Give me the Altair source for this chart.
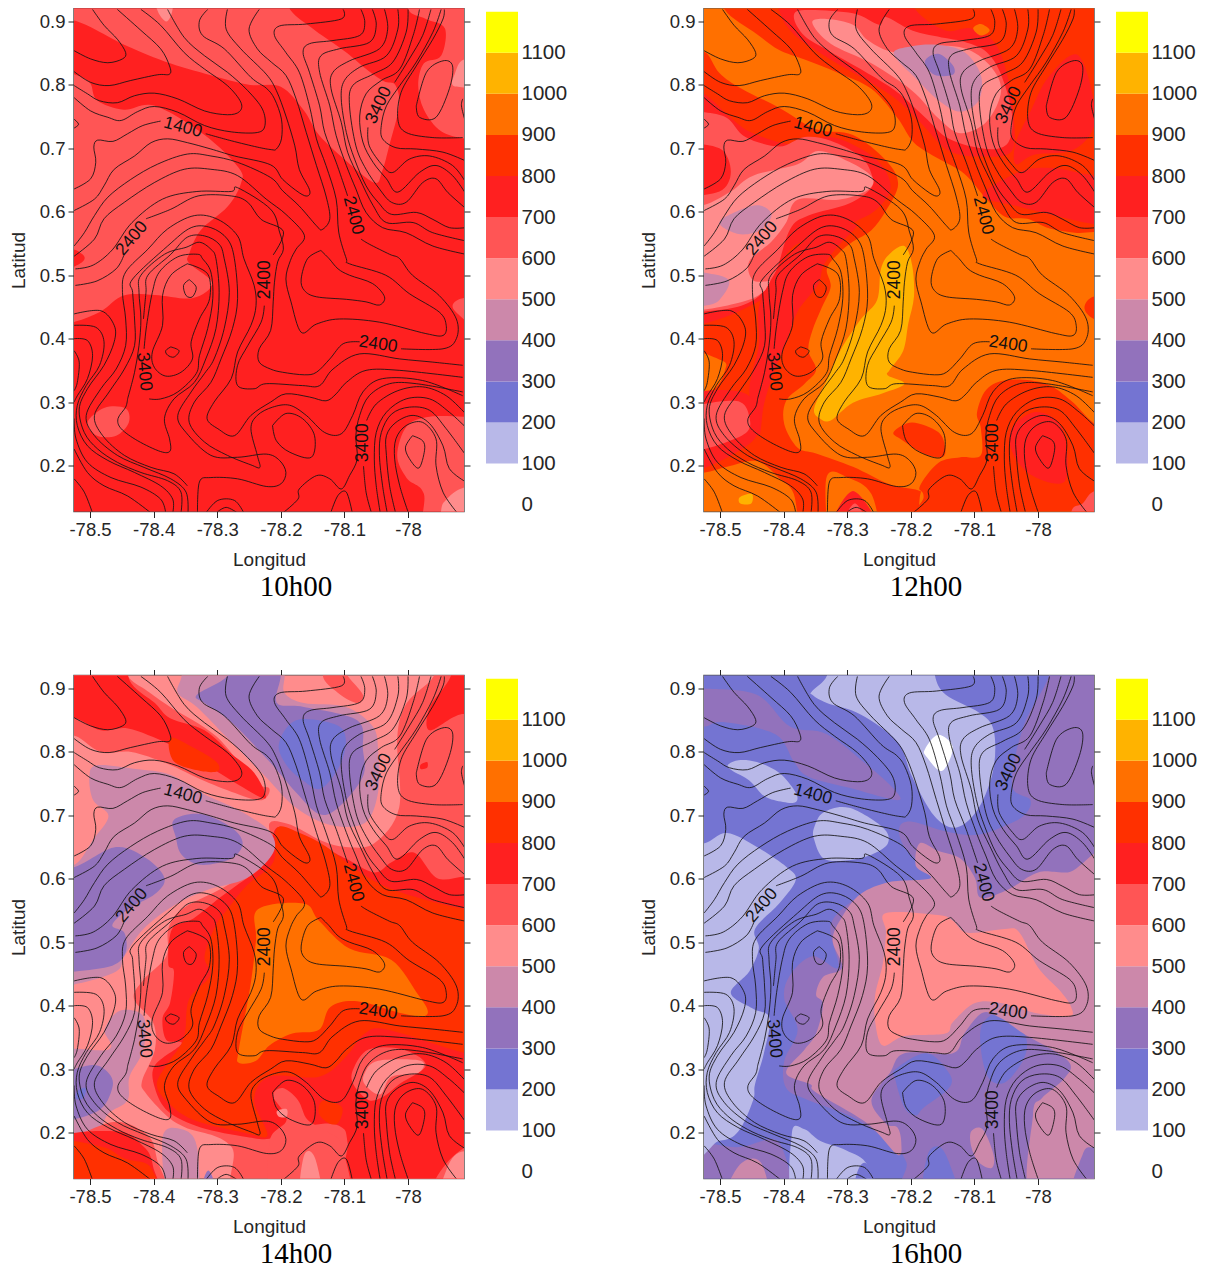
import altair as alt
import pandas as pd

# All outlines are flat u,v lists: u = hundredths of a degree east of -78.5, v = hundredths of a degree of latitude.
LON0 = -78.5
LON_DOMAIN = [-78.5252, -77.912]
LAT_DOMAIN = [0.1275, 0.9205]
LON_TICKS = [-78.5, -78.4, -78.3, -78.2, -78.1, -78]
LAT_TICKS = [0.2, 0.3, 0.4, 0.5, 0.6, 0.7, 0.8, 0.9]
BAND_LEVELS = [0, 100, 200, 300, 400, 500, 600, 700, 800, 900, 1000, 1100]
BAND_COLORS = ["#FFFFFF", "#B8B8E8", "#7474D2", "#9272BC", "#CC88AA", "#FF8C8C", "#FF5555",
               "#FF2020", "#FF3000", "#FF7000", "#FFB300", "#FFFF00"]
BAR_TICKS = [0, 100, 200, 300, 400, 500, 600, 700, 800, 900, 1000, 1100]
FULL = [-10, 0, 70, 0, 70, 100, -10, 100]

PANEL_10H = [
    (700, FULL),
    (600, [-6,96, -6,91, -2.3,90.1, 1.1,88.6, 5.9,86.1, 12.6,83.4, 19.8,81.3, 25.2,80, 30,79.7, 33.6,76, 36,72.1, 40.2,68.1, 44.7,64.6, 45.9,66.3, 47.1,70.6, 48.6,76.7, 48,80, 46.2,80.6, 43.8,82.2, 40.2,85.2, 35.4,88.6, 31.5,91.8, 30,96]),
    (600, [50.1,91.8, 52.8,90.4, 55.8,88.9, 55.2,84.6, 52.5,83.4, 51.6,80, 52.5,76.1, 55.2,72.7, 59.1,71.5, 63,71, 63,96, 50,96]),
    (600, [-6,82, -2.3,81.6, 0,80.3, 1.1,77.6, 5.3,76.1, 10.2,76.7, 18,72.1, 23.4,66.9, 23.7,64.4, 21.6,60.8, 17.4,57.1, 15.6,53.4, 15.6,51.9, 19.2,48.8, 16.2,46.4, 10.2,46.9, 5.3,46.8, 1.7,44.3, -2.3,42.7, -6,42]),
    (600, [-0.4,26.8, 2.3,29.1, 5.6,29, 6.1,26.8, 4.1,24.7, 1.1,24.7]),
    (600, [48.3,21.6, 49.8,26.2, 53.4,27.7, 59.1,27.7, 63,27.7, 63,8, 52.8,8, 52.5,15.5, 49.8,18]),
    (700, [-3,54, -1,53.1, -1.3,52, -4,51]),
    (600, [57,45.2, 58.8,46.4, 63,46, 63,40, 58.5,43.3]),
    (500, [10.5,92, 12,90, 13,92, 13,96, 10,96]),
    (500, [63,83, 58.8,84, 57.3,81.6, 57,80, 58.8,79.6, 63,79]),
    (500, [63,17, 58.5,16.4, 56,14.6, 55.2,12.9, 55,8, 63,8]),
]

PANEL_12H = [
    (900, FULL),
    (800, [.8,91.8, 5.8,88, 9.3,85.5, 13.3,84, 18.6,81.9, 23.8,79.4, 27.9,74.8, 30.5,70.9, 34.3,68.4, 38.4,66, 41.9,62, 44.8,59.2, 48.3,58.9, 51.7,57.4, 55.8,56.7, 59,56.8, 64,56.8, 64,96, .8,96]),
    (800, [-6,85, -2.4,85.2, -.1,81.9, 3.4,79.4, 9.3,76.4, 15.1,73, 20.9,72.1, 26.1,68.1, 28,64.4, 26.1,60.2, 23.8,57.1, 20.9,55.3, 18.6,53.4, 16.8,51, 17.4,48.2, 16,44.9, 14.5,41.2, 13.9,38.1, 15.1,35.1, 13.3,32.9, 10.4,30.2, 10.1,26.5, 12.2,22.8, 15.1,21.9, 20.9,19.8, 26.7,17, 31.1,16.1, 31.4,14.9, 30.2,8, 26.1,8, 23.8,15.5, 20.3,18, 16.8,18.3, 16.5,8, 13,8, 11.6,15.5, 9.3,18, 5.8,20.7, 1.1,19.8, -2.4,18.9, -6,18.9]),
    (800, [40.4,28.3, 41.9,32, 45.3,33.5, 51.2,32.9, 55.2,30.2, 59,26.5, 64,24, 64,8, 30.6,8, 32,14.9, 31.4,16.7, 34.3,20.4, 37.8,21.3, 41,21.6, 41,25.9]),
    (800, [27.3,25.3, 30.2,26.8, 34.3,25.3, 35.4,22.8, 34.9,21.3, 32,21.9, 28.5,24.1]),
    (700, [-6,79, -2.4,78.5, 1.7,74.8, 5.2,72.4, 11.6,70.6, 17.4,71.8, 23.2,69.3, 26.1,66.3, 26.7,63.2, 24.4,60.2, 20.9,58.3, 15.7,55.9, 11.6,54.6, 9.3,51, 8.1,47.3, 2.9,44.3, -2.4,42.4, -6,42]),
    (600, [-6,76, -2.4,75.7, 1.1,74.8, 4,71.8, 9.3,70.3, 13.3,71.8, 17.4,71.2, 22.1,68.7, 23.8,66, 23.8,63.8, 20.3,61.3, 13.9,59.4, 11,57.2, 8.7,50.4, 6.1,46.7, 2.3,44.9, -2.4,44.3, -6,44]),
    (700, [-6,70, -.1,70, 1.7,66.3, -.1,63.2, -6,63.2]),
    (500, [-6,61, -2.4,61.1, 1.7,63.2, 5.2,65.7, 12.2,67.5, 15.4,69.6, 20.3,67.9, 23.9,65.5, 23.2,63.4, 18.6,61.9, 12.2,61.9, 10.4,58.3, 8.1,55.3, 4.6,52.2, 5.2,49.2, 8.1,48.9, 5.8,46.7, 2.3,45.5, -2.4,44.6, -6,44.6]),
    (400, [-.1,58.3, 3.4,60.4, 6.3,61, 8.1,59.5, 6.3,57.1, 2.9,56.5]),
    (400, [-6,50.5, -2.4,50.4, 1.4,49.2, -.1,46.1, -2.4,45.2, -6,45]),
    (700, [8.7,50.4, 12.2,54.6, 16.8,57.1, 21.5,58, 18.6,54.6, 16.3,51.6, 15.4,48.5, 12.2,44.3, 10.4,39.4, 8.4,34.5, 6.9,29.6, 6.1,24.7, 4.6,31.7, 6.1,39, 6.1,44.9]),
    (900, [-6,38, .2,36.6, .8,35.1, -1,32, -6,30.8]),
    (700, [-6,30.2, 2.9,31.7, 6.1,28.3, 4.6,23.4, -6,19.2]),
    (600, [-6,28.3, 2.3,30.2, 4.6,27.7, 3.4,24.7, -6,22.2]),
    (700, [46.5,70.9, 48.8,75.8, 51.7,81.3, 56.4,84.6, 59,74.8, 55.8,69.9, 49.4,69, 46.5,67.5]),
    (700, [41.3,62.6, 47.1,60.8, 59,58, 64,58, 64,66, 59,65.7, 52.3,66.9, 47.1,66.3]),
    (700, [9.3,96, 9.3,91.8, 11.6,88, 17.4,84, 26.7,78.5, 31.4,74.2, 36,69.6, 41.9,68.7, 45.9,69.6, 46.2,74.8, 45.3,81, 43.3,86.5, 39.5,88.9, 35.4,88.6, 30.8,91.8, 30,96]),
    (600, [11.6,90.7, 13.3,87.7, 17.4,85.2, 26.7,79.7, 32,75.1, 36,71.5, 41.9,69.9, 45.3,70.9, 45.9,75.4, 44.2,81.6, 41.9,85.2, 38.4,86.8, 35.4,87.4, 30.2,88.6, 26.1,90.7, 25,89.5, 20.9,91.3, 13.3,91.8]),
    (500, [14.5,89.8, 16.8,90.4, 20.9,89.5, 23.2,87.1, 27.3,85.2, 32.5,86.1, 38.4,85.8, 42.4,83.1, 44.2,79.1, 41.9,74.2, 37.8,72.4, 34.3,74.8, 30.2,79.1, 23.8,83.4, 17.4,86.5]),
    (400, [27.3,84.9, 30.2,86.1, 34.3,86.3, 38.4,85.2, 41,81.6, 40.7,77.6, 37.8,75.8, 34.3,77.6, 30.8,81]),
    (300, [32.2,83.7, 34.3,84.9, 36.6,83.1, 36.6,81.6, 33.7,81.6]),
    (900, [39.8,88.9, 41,89.6, 42.4,88.6, 41,87.8]),
    (700, [45.9,25.9, 49.4,28.4, 52.9,27.1, 54.4,23.5, 54.1,17.4, 48.8,18.6, 45.9,22.3]),
    (600, [59,16, 57,14, 55.3,12.9, 55,8, 64,8, 64,16]),
    (700, [17.7,10, 20.9,16, 24.7,10]),
    (600, [19.2,10, 21.2,14, 23.2,10]),
    (1000, [25.3,51, 26.7,53.4, 29,54.6, 30.2,51.6, 30.5,46.7, 29.6,42.4, 28.8,38.1, 26.7,35.1, 26.4,34.2, 29,32.9, 25.6,31.4, 20.9,29.9, 17.4,27.1, 15.7,27.4, 14.8,29, 16.8,33.5, 18.9,38.1, 22.1,43, 24.7,46.1]),
    (1000, [3.1,15, 5,15.5, 4.9,14, 3.2,14]),
    (800, [57.3,44.9, 59,46.7, 64,46, 64,42, 59,43]),
]

PANEL_14H = [
    (500, FULL),
    (600, [-6,82.5, -2.3,82.5, 1.7,80, 6.5,80, 12,78.2, 18,75.4, 23.4,73.3, 27,72.4, 28.2,74.2, 25.8,75.4, 19.8,82.5, 12.6,87.1, 9,89.6, 5.9,92, 5,96, -6,96]),
    (700, [-6,85.5, -2.3,85.3, 1.7,83.4, 6,83.7, 12.3,81.3, 17.4,78.5, 23.4,74.8, 27.6,72.7, 25.8,76.7, 22.2,79.7, 18,83.4, 12.6,85.3, 10.2,87.7, 6.5,90.8, 4,96, -6,96]),
    (800, [12.6,82.2, 16.2,80.7, 19.8,78.5, 20.1,77, 17.4,77, 13.2,78.5]),
    (600, [28.2,68.7, 28.5,63.8, 23.4,60.1, 19.8,58, 14.4,55.2, 12.3,52.1, 12,47.8, 8.4,44.1, 6.9,41.1, 9.9,37.4, 10.2,33.1, 8.2,28.2, 8.7,26.3, 12,22.7, 15,20.8, 22.2,17.8, 25.8,8, 64,8, 64,96, 54,96, 54,91.9, 49.8,87.7, 48.3,82.2, 48.6,71.2, 44.7,65.6, 40.2,65, 36.6,65.9, 33.6,67.5, 30.9,68.7]),
    (700, [29.4,68.1, 27.6,62.6, 23.4,59.2, 20.4,57, 16.2,53.7, 12.9,52.1, 12.3,46.6, 13.2,45.4, 12.6,40.5, 11.4,38, 12,34.6, 14.4,34, 10.2,30.6, 10.2,27, 12.3,23.3, 17.4,20.8, 24.6,19.3, 28.2,19, 31.2,20.2, 36.6,21.4, 39.6,20.8, 40.5,18.4, 41.4,8, 64,8, 64,60.4, 59.1,60.4, 54.6,60.1, 51,64.1, 47.4,62.6, 44.7,61, 40.2,63.2, 37.8,64.4, 33.6,66.2]),
    (800, [29.4,68, 33,67.2, 37.2,65, 42,61.3, 46.2,58.9, 51.6,57, 59.1,55.2, 64,55, 64,32.5, 59.1,32.5, 46.8,36.2, 43.2,35.6, 40.2,31.9, 36,28.8, 28.2,28.8, 25.8,25.1, 27.9,19.6, 24.6,19.9, 16.2,22, 12,25, 10.5,27.6, 12,30.6, 14.4,34, 15,36.2, 15.6,41.1, 18.9,44.8, 18,47.8, 19.8,52.7, 21.6,55.2, 24.6,58.9, 28.8,62.6]),
    (900, [26.4,55.2, 33.6,56.1, 36,53.4, 40.8,49, 47.4,47.2, 51.6,41.7, 53.1,39.2, 52.2,38.3, 48.6,38.9, 42,40.7, 37.8,39.8, 36,36.2, 31.8,35.6, 28.2,33.7, 26.1,31.3, 23.4,31, 23.4,33.1, 25.2,43, 26.1,50.3]),
    (600, [41.4,30, 43.8,33.1, 49.2,33.1, 52.8,30.6, 48.6,27.6, 46.2,25.7, 43.8,25.1, 41.4,27.6]),
    (500, [43.2,29.4, 45.3,31.3, 52,31.3, 51.6,29.4, 47.4,28.8, 45.6,26, 43.2,27.6]),
    (600, [28.2,18.4, 30.9,22, 28.8,25.7, 30.3,27, 32.7,25.1, 34.2,22, 37.2,20.2, 39.6,17.8, 40.5,8, 29.4,8]),
    (500, [33,8, 33.6,16.2, 35.4,15.9, 36.6,8]),
    (500, [29.4,23.4, 30.9,23.7, 30.9,22.5, 29.7,22.5]),
    (800, [36.6,25, 39.6,24, 39,21.5, 37.5,21.5, 36,23]),
    (700, [53.4,83.4, 58.2,85.9, 64,86, 64,96, 56.7,96, 56.7,91.9, 53.4,87]),
    (700, [52,78, 53,78.4, 53,77.5, 52,77.3]),
    (600, [64,19, 58,17, 54,12, 54,8, 64,8]),
    (500, [64,16, 58.5,17, 56,14, 55.2,8, 64,8]),
    (400, [14.4,96, 14.4,92, 13.8,89.3, 16.8,87.1, 21.6,82.2, 27.6,76.1, 32.4,71.2, 37.8,68.5, 43.2,68.8, 45.3,73.7, 45.3,80.4, 44.4,84.1, 40.2,87.1, 33.6,87.7, 30.6,89.3, 30.6,92, 30.6,96]),
    (300, [16.8,89, 21.6,92, 21.6,96, 30,96, 30,92, 29.4,87.7, 33.6,87.1, 42,85, 42.9,80.4, 42.9,76.1, 39,71.2, 36,70.2, 32.4,73.6, 28.2,78.5, 22.2,84.7, 18,87.7]),
    (200, [29.7,81.3, 32.4,85, 38.4,84.4, 40.2,82.2, 39.3,77.9, 36.3,74.2, 33.6,75.4, 30.9,77.9]),
    (600, [36.6,92, 39,89.3, 42,87.7, 42.9,89, 40.5,92, 38,96]),
    (400, [-.1,76.1, 1.1,77.9, 7.2,77.3, 12.6,76.4, 18,73.3, 23.4,70.8, 28.2,67.5, 28.8,64.1, 24.6,60.1, 18.6,58.3, 13.2,55.8, 8.4,52.1, 5.4,47.8, 4.1,45.4, -1.9,43.5, -6,43.5, -6,62.3, -2.3,62.3, .5,66.2, 2.9,69.9, .5,72.4]),
    (300, [13.2,69.3, 17.4,70.2, 22.2,68.1, 24,65.6, 22.2,63.2, 17.4,62.2, 14.4,63.8, 13.5,66.5]),
    (300, [-6,62, -2.3,61.9, 4.1,65, 8.9,63.2, 11.7,60.1, 10.2,57.6, 6,55.2, 3.5,52.7, 5.4,51.5, 5.6,48.4, 3.5,46.3, -2.3,45.4, -6,45]),
    (400, [-6,32, 2.9,33.1, 2.3,36.2, 4.7,39.2, 8.4,38.3, 8.4,33.1, 6.2,28.8, 5.9,25.1, 2.9,23, 1.1,19.9, -2.3,19.3, -6,19]),
    (300, [-6,28, 0,30.6, 2.9,29.4, 3.5,27, 1.1,23.3, -6,22]),
    (200, [-2,26.5, -.7,27, -1,25.5, -2.2,25.3]),
    (400, [11.4,19.2, 14.4,20.5, 16.8,17.8, 16.8,8, 12.6,8]),
    (300, [17,8, 18.6,14, 20.4,8]),
    (600, [-6,19.6, -2.3,19.6, 4.1,21.7, 9,19.6, 10.5,15.9, 11.4,8, -6,8]),
    (700, [-6,18.4, 4.1,20.2, 8.4,17.8, 9.9,14.7, 10.2,8, -6,8]),
    (800, [-6,18, 1.7,17.8, 5.4,15.9, 9.6,14.4, 9.9,8, -6,8]),
]

PANEL_16H = [
    (200, FULL),
    (300, [-6,90, -2.4,90, 5.8,89, 11,84, 16.8,82.8, 23.2,77.9, 27.3,74.2, 27.9,72.4, 20.9,74.2, 13.9,76.1, 11.6,78.5, 8.7,82.8, .5,84.7, -2.4,84, -6,84]),
    (300, [51.7,96, 51.7,91.9, 47.7,84, 45.9,74.8, 48.8,72.4, 47.7,69.9, 44.2,68.1, 40.1,66.9, 35.4,67.5, 30.2,69, 28.2,68.1, 29,65, 33.1,60.1, 26.7,59.5, 21.5,57, 17.4,52.7, 18.6,46, 14.5,47.8, 11,44.8, 10.1,41.1, 12.2,36.2, 10.1,31.3, 10.4,27, 13.9,25.1, 20.9,22.4, 26.7,18.4, 29.3,15.3, 30.8,8, 64,8, 64,96]),
    (200, [41,36.4, 44.2,38.9, 47.7,35.9, 48,32.2, 44.8,27.9, 41.9,29.2]),
    (200, [27.6,30, 32.5,32.5, 36,29.4, 36,27, 32,23.9, 30.8,22.7, 29,23.9, 27.6,28.2]),
    (200, [32,8, 32.5,16, 34.3,17.8, 36,15.3, 37.8,8]),
    (400, [31.4,65.6, 34.3,64.4, 37.8,63.2, 40.1,60.1, 41,57, 45.3,58.3, 50,61, 54.7,61, 64,61.5, 64,8, 49.4,8, 49.2,22.7, 50.6,25.4, 54.1,28.5, 54.7,31.3, 47.7,35.6, 44.2,38, 41.3,38.9, 38.4,35.6, 36.6,32.5, 29,32.5, 26.7,29.4, 23.8,25.1, 26.1,21.4, 27.9,20.8, 28.5,18.4, 27.9,16.5, 23.2,21.4, 15.1,26.3, 14.2,27.6, 10.4,29.4, 13.3,33.1, 15.1,35.6, 16.2,40.2, 15.1,41.7, 16.2,44.5, 19.2,46, 17.7,50.3, 19.2,54, 22.1,57.6, 26.7,59.5, 33.1,60.1, 30.8,62]),
    (400, [39.5,20.2, 41.3,20.5, 43,16.5, 42.7,14.4, 40.7,15.3, 39.5,17.8]),
    (300, [-6,17.8, 2.9,17.7, 9.3,18.4, 9.9,8, -6,8]),
    (400, [.5,8, 2.9,14.7, 6.4,15.3, 7.5,8]),
    (300, [59,17.7, 57,16.5, 55.2,8, 64,8, 64,17.7]),
    (500, [26.1,54.6, 34.3,54.3, 36.6,53.4, 38.9,51.5, 44.8,52.1, 47.1,51.5, 50,46, 53.5,42.3, 55.2,39.8, 54.9,38.3, 49.4,38.9, 44.2,40.4, 40.1,40.4, 36.6,37.4, 35.4,35.6, 29,35.2, 25.6,33.7, 24.4,37.4, 24.4,41.7, 25.6,46.6, 26.1,51.5]),
    (100, [16.8,96, 16.8,92, 14.5,89.6, 14.5,89, 16.8,87.7, 22.1,85.9, 27.9,81.6, 30.2,76.1, 33.7,69.9, 37.2,68.1, 40.7,71.2, 43,77.4, 43,83.5, 40.7,86.2, 35.5,89, 33.8,92, 33.8,96]),
    (0, [32.2,80.4, 34.3,82.7, 36.6,80.7, 34.9,77, 32.5,79.2]),
    (100, [1.2,77.9, 2.9,78.7, 5.8,78.4, 9.3,76.7, 11.9,73.6, 11.9,72.1, 9.9,72.1, 7,73, 4.6,75.5, 2,77]),
    (100, [14.8,68.1, 16.3,70.5, 20.3,71.2, 25.6,68.1, 26.4,65.6, 23.8,63.8, 19.8,62.9, 16.3,63.2, 14.8,66.2]),
    (100, [-6,65.6, -2.4,65.6, 1.1,67.2, 5.8,65, 10.4,61.9, 11.9,59.8, 9.3,56.1, 5.5,52.1, 6.1,49, 4.6,45.4, 1.7,42, 5.2,39.5, 7.8,38, 6.9,32.5, 5.5,27.6, 5.2,25.1, 2.9,20.2, -.1,18.7, -6,19]),
    (100, [11.3,19.9, 13.3,20.5, 15.7,18.7, 19.8,17.2, 23.2,14.8, 24.4,8, 12.2,8]),
    (200, [21.5,13.5, 23.2,14.9, 25.6,8, 21,8]),
]

CONTOURS = [
    [-2.5,85.4, .1,84.1, 2.8,83.5, 5.1,84.1, 5.6,85.1, 4.3,87.2, 2.2,89.4, .4,91.9],
    [-2.5,82.1, .1,80.4, 3,79.9, 6.4,80.7, 10.6,81.6, 12.5,81.7, 12.5,83, 11.1,85.7, 8,88.6, 4.3,91.9],
    [-2.5,79.9, -.4,78.6, 1.5,77.5, 4.3,77.2, 7,78.3, 10.1,78.7, 13.8,77.8, 18,75.9, 21.6,75.3, 23.5,75.8, 23.7,77.3, 21.6,79.9, 18,82.5, 14.8,85.1, 11.1,89.4, 8,91.9],
    [-2.5,78, .1,75.9, 2.8,74.9, 4.9,74.4, 7.5,75.8, 10.1,76.6, 13.8,75.7, 18,73.6, 22.2,72.6, 26.3,72.5, 27.5,73.6, 27.1,76.2, 24.8,79.1, 21.6,82, 18,84.6, 14.8,87.5, 12.2,91.9],
    [-2.5,63.6, .1,65.2, .9,67.8, .6,70.2, 1.2,71.3, 3.6,71.1, 5.9,72.3, 8.3,73.6, 11.1,74.3],
    [18.2,72.3, 22.2,71.2, 26.3,70.2, 28.5,69.8, 29.3,69.9, 30.1,71.5, 30.1,74.6, 29,77.8, 27.7,79.5, 25.3,81.2, 21.1,85.7, 17.7,87.8, 17.2,90.1, 18.5,91.9],
    [-2.5,60.2, .7,62, 2.2,64.1, 3.8,66.7, 7,68.8, 9.6,70.9, 12.2,71.5, 15.3,70.9, 19,69.9, 22.7,68.8, 28.4,67.4, 30.3,65.1, 32.9,63, 34.2,62.5, 34.5,63.5, 32.9,66.7, 32.2,70.4, 30.8,75.1, 29.3,79.1, 27.7,81.7, 23.7,85.7, 21.4,88.8, 21.6,91.9],
    [-2.5,54.6, -.9,56.7, .7,59.4, 2.8,62.3, 6.4,65.1, 10.6,67.5, 15.3,69.1, 19,68.8, 23.2,67.8, 28.4,65.4, 30.3,63.3, 32.9,60.9, 35.6,57.8, 36.5,57.2, 37.7,58.9, 37.1,62.5, 35.6,67.3, 34,72.5, 32.4,77.8, 30.8,81.5, 28.5,83.6, 26.3,85.7, 25,88.8, 26.6,91.9],
    [-2.5,53, .7,55.7, 2.2,58.9, 5.4,61.5, 10.1,64.6, 14.8,66.7, 19,66.7, 23.2,65.7, 27.7,62, 30.8,59.6, 33.7,56.3, 32.4,54.1, 31.5,52.3, 30.8,49.4, 31.6,45.8, 33.2,41, 35.6,42.3, 39.2,43.1, 45.5,42.6, 52.8,40.8, 55.5,40.5, 56,42.1, 54.9,44.2, 50.2,47.1, 46.5,50, 40.8,51.8, 40.3,52.6, 39.1,56.8, 38.7,62, 37.1,67.3, 35.6,71.5, 34.5,76.7, 32.9,82, 30.8,85.1, 29,87.8, 29.8,89.3, 34,89.6, 39.5,90.4, 39.8,91.9],
    [36.3,53.9, 34.2,52.6, 33.2,49.4, 33.7,47.6, 35.6,46.6, 40.3,46.2, 43.4,45.8, 45.5,45.3, 46.3,46.6, 44.4,48.7, 40.8,50, 39,51, 37.6,52.6, 36.3,53.9],
    [-2.3,51, .5,51.6, 3.5,54, 6.6,58.3, 11.4,62, 16.8,63.2, 22.2,63.2, 23.2,63.8, 28.4,60.4, 29.8,56.8, 30.4,54.1, 29.5,52.1, 29,48.9, 28.8,45.8, 28.4,41.3, 26.6,38.4, 26.6,36.3, 28.4,35.2, 30.3,34.7, 33.7,34.3, 35.6,34.7, 37.7,36.8, 39.8,39.2, 42.4,39.5],
    [48.9,38.4, 55.5,38.4, 57.6,40, 57.6,43.1, 54.9,46.8, 50.7,50, 48.7,52.6, 47.1,53.3, 43.9,54.9, 42.6,55.7],
    [40.5,62.5, 38.7,67.8, 36.9,72.5, 36.1,76.7, 34.5,82, 33.5,85.1, 34.5,86.5, 38.2,87, 42.4,87.8, 43.2,89.9, 42.6,91.9],
    [-2.3,48.4, 1.1,49.1, 4.1,51, 5.3,53.1],
    [8.8,58.9, 12.7,60.4, 17,62.5, 22.2,62.5, 24.8,61.5, 26.9,58.8, 30.4,56.9, 28.8,53.2],
    [27.4,45.2, 26.9,42.6, 24.8,38.9, 23.2,35.8, 23.2,32.6, 25.8,32.1, 27.7,32.9, 33.4,32.6, 36.1,32.6, 38.2,35.2, 42.4,37.6, 48.7,36.8, 53.9,36.3, 58.6,35.8],
    [44.4,91.9, 45,89.4, 43.9,86.7, 39.2,85.7, 36.3,84.6, 36.1,82, 37.7,76.7, 38.7,72, 40.3,67.3, 41.8,63.6, 43.4,59.9, 46,57.5, 49.7,56.7, 53.9,54.6, 59.1,53.3],
    [46.3,91.9, 46.8,88.8, 45.5,85.7, 40.8,83.8, 38.2,82, 37.9,79.4, 39.5,74.1, 40.5,69.4, 42.4,65.2, 44.5,61, 46.6,58.3, 50.8,58.3, 53.9,56.7, 59.1,55.4],
    [48.4,91.9, 48.4,88.8, 46.6,84.6, 42.4,82.8, 40,80.7, 39.5,77.8, 40.3,72.5, 41.6,68.3, 43.4,64.1, 45.3,61.5, 47.4,59.6, 51.3,59.9, 53.9,58.8, 56.5,57.5, 59.1,57.5],
    [50,91.9, 49.7,88.3, 47.6,83.6, 44.5,81.7, 41.3,79.9, 40.8,76.7, 41.8,70.4, 43.4,66.7, 45.5,63.6, 47.4,61.5, 49.7,61.5, 52.3,64.6, 54.4,65.2, 56.3,63, 59.1,60.5],
    [51.8,91.9, 50.8,87.8, 48.7,82.5, 45.8,80.7, 43.4,78.6, 42.4,75.1, 42.9,71, 44.5,67.8, 46.6,65.2, 48.4,63.1, 51.8,66.2, 54.4,67.3, 57,65.7, 59.1,62.8],
    [53.6,91.9, 52.3,87.8, 50.2,84.1, 47.9,80.4],
    [43.7,73.3, 43.9,70.4, 46,67.3, 47.6,66.2, 50.2,68.3, 53.4,68.8, 57,67.3, 59.1,64.6],
    [55.2,91.9, 53.9,88.3, 51.3,83.6, 48.7,79.9, 46.6,76.7, 45.8,73.6, 46,71.5, 48.1,70.1, 51.3,69.9, 55.5,69.4, 59.1,68],
    [55.7,91.9, 55.5,90.4, 53.9,87.2, 51.3,83, 48.9,78.8, 48.4,74.6, 49.7,72.5, 53.9,71.7, 58.6,71.7],
    [51.3,76.7, 52.9,82, 55.5,83.8, 57,83, 56.5,79.4, 54.4,74.9, 51.8,74.9, 51.3,76.7],
    [58.6,77.8, 58.4,76.7, 58.9,74.6],
    [-2.5,74.6, -1.8,73.8, -2.5,73.2],
    [15.6,49.3, 16.7,48.1, 16.1,46.6, 15.1,46.8, 14.7,48.4, 15.6,49.3],
    [12.7,38.7, 14,38.1, 13.2,37.1, 12.2,37.4, 11.9,38.1, 12.7,38.7],
    [15.3,51.8, 18.5,50.2, 18.8,46.3, 17.2,43.1, 15.9,39.5, 16.1,36.8, 14.3,34.7, 11.9,34.1, 10.1,35.5, 9.8,37.9, 11.4,42.1, 11.4,46.8, 12.7,50, 15.3,51.8],
    [9.3,30.5, 11.1,30.5, 13.8,31.6, 16.7,34.5, 17.2,37.3, 18.5,41.6, 19.3,46.3, 19,50.5, 17.7,52.6, 16.9,53.3, 13.8,52.9, 10.9,50.5, 9.8,47.3, 8.9,42.1, 8.5,38.4],
    [5.9,30.5, 5.6,29.2, 4.4,27.4, 4.9,25.8, 7.5,23.9, 11.1,22.2, 12.6,22.3, 12.5,24.2, 11.7,27.4, 13.2,30.5, 16.4,33.1, 18.2,36.8, 19.8,41.6, 20.3,47.3, 19.8,52.6, 19,54.1, 17.2,55.2, 15.1,54.4, 11.7,53.3, 8,50, 7.7,47.3, 8,43.1, 7.7,38.9, 7,34.7, 5.9,30.5],
    [16.9,12.5, 17.2,17.4, 19,18.1, 23.2,17.9, 27.7,16.7, 30,17.1, 30.8,18.9, 29.8,20.8, 27.7,21.8, 23.2,21.3, 19,21.6, 15.1,25.2, 13.8,27.9, 15.9,31.6, 18,34.5, 19.5,36.8, 21.1,41.6, 21.9,47.3, 21.1,52.6, 20.3,54.9, 18,56.2, 15.3,56, 12.7,53.3, 9.1,50, 8.8,47.3, 8.4,43.1],
    [58.6,31.6, 51.3,32.9, 47.1,32.9, 43.9,31, 42.4,27.9, 41.8,24.7, 42,21, 40.8,18.4, 39.5,16.3, 37.7,17.9, 35.6,18.4, 32.9,16.3, 32.7,14.7, 30.3,12.5],
    [58.6,31, 52.3,33.4, 46,33.7, 42.9,31.6, 41.3,27.9, 39.5,25, 36.9,25.2, 34,27.9, 31.4,29.5, 28.7,29.2, 26.3,27.9, 25.3,25.8, 26.3,21.6, 26.7,19.7, 25.3,20.1, 21.6,21.6, 18,23.7, 15.6,26.8, 16.4,30, 19,33.1, 20.6,36.8, 22.4,41.6, 23.2,46.3, 22.7,52.6, 21.6,55.7, 19,57.5, 15.9,57.5, 12.2,54.6, 6.7,49.4, 6.7,47.3, 7,43.1, 7,38.9, 5.4,35.2, 3,31.6, .7,27.9, 2,24.7, 5.4,21.6, 9.6,19.7, 13.2,18.7, 15.3,16.8],
    [58.6,33.9, 48.7,35, 43.4,35, 40.3,33.1, 38.7,31.3, 37.1,30.2, 34.5,30.8, 30.8,31.3, 28.4,30, 25.3,27.9, 22.7,24.7, 20.1,25.8, 18.4,27.4, 19.5,30, 22.2,33.7, 23.2,37.9, 25.3,42.1, 26.1,45.2, 25.8,48.4, 24.2,52.6, 23.2,56.2, 20.1,58.8, 16.4,59.4, 12.2,57.3, 9.1,54.1, 5.6,50.5, 5.1,47.3, 5.6,43.1, 5.6,38.9, 4.1,35.2, 1.7,32.1, -.6,27.9, .7,24.7, 4.3,21.6, 8.5,19.7, 12.7,17.9, 15.1,15.8, 15.4,12.5],
    [-2.5,43.9, 1.7,44.4, 3.8,42.1, 3.8,39.5, 2.2,35.8, -.4,32.1, -1.7,28.9, -.9,25.2, 1.2,22.6, 4.3,20.5, 8,18.9, 12.2,17.6, 14.3,15.8, 14.3,12.5],
    [-2.5,42.1, .9,41.8, 2.2,39.5, 1.5,35.8, -.6,32.6, -2,29.5, -2,26.3, -.4,23.1, 2.8,20.8, 7,18.9, 11.1,16.8, 13,14.7, 13,12.5],
    [-2.5,40, -.4,39.7, .4,37.3, -.4,33.7, -2,31, -2.5,30],
    [-2.5,38.1, -1.7,36.3, -2,33.1, -2.5,31.8],
    [-2.5,27.4, -2.2,24.2, -.4,20.5, 3.3,18.1, 8,16.6, 11.1,14.7, 11.9,12.5],
    [-2.5,22.6, -.4,18.9, 2.2,16.8, 5.9,15.2, 9.6,12.5],
    [-2.5,17.9, -.9,15.8, .4,12.5],
    [18.2,12.5, 20.1,14.5, 22.7,14.5, 24.2,12.5],
    [19.8,12.5, 21.4,13.4, 23.2,12.5],
    [28.7,26.3, 30.8,28.2, 33.4,27.4, 35.3,24.7, 34.8,21.3, 31.4,22.1, 29.3,23.9, 28.7,26.3],
    [43,19.9, 43.4,15.8, 44.2,12.7],
    [43.5,27.1, 45,29.7, 48.4,31.8, 52.3,32.4, 56,31, 59.1,28.1],
    [45.6,12.7, 45,16.8, 44.7,21, 45,25.2, 46.6,28.4, 49.7,30.5, 53.4,30.5, 56.5,28.4, 59.1,26],
    [46.7,12.7, 46,16.8, 45.5,21.6, 45.8,25.2, 47.4,28.1, 50.2,29.2, 53.4,28.7, 56,25.8, 59.1,21.6],
    [48,12.7, 47.1,16.8, 46.6,21.6, 46.6,24.7, 48.1,26.8, 50.8,27.9, 53.4,26.6, 55.5,23.1, 56.5,19.5, 59.1,17.4],
    [50,12.7, 48.7,16.8, 47.9,21, 48.1,24.2, 49.7,26.3, 52.3,26.8, 54.4,24.2, 54.4,20, 55.5,15.8, 57.6,12.7],
    [50.7,24.7, 52.3,23.9, 52.6,22.4, 51.7,19.6, 50.2,21.1, 49.6,22.9, 50.7,24.7],
    [37.9,12.7, 39,15.3, 40.3,15.8, 41.2,12.7],
]

LABEL_TEXT = ["1400", "2400", "3400", "2400", "2400", "2400", "3400", "3400"]
LABEL_U = [14.6, 6.6, 45.4, 41.4, 27.5, 45.3, 8.5, 42.9]
LABEL_V = [73.3, 55.8, 76.8, 59.4, 49.3, 39.1, 34.8, 23.6]
LABEL_ANGLE = [15, 310, 295, 75, 270, 8, 85, 270]


def fill_table(polys):
    rows = []
    for pid, (band, flat) in enumerate(polys):
        for s in range(0, len(flat), 2):
            rows.append({"pid": pid, "seq": s, "band": band,
                         "lon": LON0 + flat[s] / 100, "lat": flat[s + 1] / 100})
    return pd.DataFrame(rows)


line_rows = []
for lid, flat in enumerate(CONTOURS):
    for s in range(0, len(flat), 2):
        line_rows.append({"lid": lid, "seq": s, "lon": LON0 + flat[s] / 100, "lat": flat[s + 1] / 100})
lines_df = pd.DataFrame(line_rows)
labels_df = pd.DataFrame({"txt": LABEL_TEXT, "lon": [LON0 + u / 100 for u in LABEL_U],
                          "lat": [v / 100 for v in LABEL_V], "ang": LABEL_ANGLE})

FONT = "Liberation Sans"
INK = "#262626"
xs = alt.Scale(domain=LON_DOMAIN, nice=False, zero=False)
ys = alt.Scale(domain=LAT_DOMAIN, nice=False, zero=False)


def panel(polys, name, top_ticks):
    x_axis = alt.Axis(values=LON_TICKS, labelExpr="'' + datum.value", title="Longitud", grid=False, domain=False,
                      tickSize=6, tickColor=INK, labelFont=FONT, labelFontSize=18.5, labelColor=INK, labelPadding=3,
                      labelFlush=False, labelOverlap=False,
                      titleFont=FONT, titleFontSize=19, titleFontWeight="normal", titleColor=INK, titlePadding=11)
    y_axis = alt.Axis(values=LAT_TICKS, format=".1f", title="Latitud", grid=False, domain=False, tickSize=6,
                      tickColor=INK, labelFont=FONT, labelFontSize=18.5, labelColor=INK, labelPadding=3,
                      labelFlush=False, labelOverlap=False,
                      titleFont=FONT, titleFontSize=19, titleFontWeight="normal", titleColor=INK, titlePadding=11)
    fills = alt.Chart(fill_table(polys)).mark_line(interpolate="cardinal-closed", clip=True, stroke="transparent",
                                                   strokeWidth=0).encode(
        x=alt.X("lon:Q", scale=xs, axis=x_axis),
        y=alt.Y("lat:Q", scale=ys, axis=y_axis),
        fill=alt.Fill("band:N", scale=alt.Scale(domain=BAND_LEVELS, range=BAND_COLORS), legend=None),
        detail="pid:N",
        order="seq:Q",
    )
    top_axis = alt.Axis(orient="top", values=LON_TICKS, labels=False, title=None, grid=False, domain=False,
                        tickSize=6, tickColor=INK) if top_ticks else None
    right_axis = alt.Axis(orient="right", values=LAT_TICKS, labels=False, title=None, grid=False, domain=False,
                          tickSize=6, tickColor=INK)
    contours = alt.Chart(lines_df).mark_line(interpolate="cardinal", clip=True, color="#141414", strokeWidth=1,
                                             opacity=0.85).encode(
        x=alt.X("lon:Q", scale=xs, axis=top_axis),
        y=alt.Y("lat:Q", scale=ys, axis=right_axis),
        detail="lid:N",
        order="seq:Q",
    )
    text = alt.Chart(labels_df).mark_text(font=FONT, fontSize=17.5, color="#111111").encode(
        x=alt.X("lon:Q", scale=xs, axis=None),
        y=alt.Y("lat:Q", scale=ys, axis=None),
        text="txt:N",
        angle=alt.Angle("ang:Q", scale=None),
    )
    caption = alt.Chart(pd.DataFrame({"t": [name]})).mark_text(font="Liberation Serif", fontSize=29, color="#000000",
                                                               align="center", baseline="middle").encode(
        x=alt.value(222), y=alt.value(578), text="t:N")
    return alt.layer(fills, contours, text, caption).resolve_axis(x="independent", y="independent").properties(
        width=390, height=503, view=alt.ViewConfig(stroke="#555555", strokeWidth=1.5))


bar_df = pd.DataFrame({"lo": BAND_LEVELS[1:], "hi": [b + 100 for b in BAND_LEVELS[1:]], "band": BAND_LEVELS[1:]})


def colorbar():
    return alt.Chart(bar_df).mark_rect().encode(
        x=alt.value(0), x2=alt.value(32),
        y=alt.Y("lo:Q", scale=alt.Scale(domain=[-16.6, 1207.8], nice=False, zero=False),
                axis=alt.Axis(orient="right", values=BAR_TICKS, title=None, grid=False, domain=False, ticks=False,
                              labelFont=FONT, labelFontSize=20.5, labelColor=INK, labelPadding=-25, labelFlush=False,
                              labelOverlap=False, format="d")),
        y2="hi:Q",
        fill=alt.Fill("band:N", scale=alt.Scale(domain=BAND_LEVELS, range=BAND_COLORS), legend=None),
    ).properties(width=60, height=503, view=alt.ViewConfig(stroke=None))


row1 = alt.hconcat(alt.hconcat(panel(PANEL_10H, "10h00", False), colorbar(), spacing=14),
                   alt.hconcat(panel(PANEL_12H, "12h00", False), colorbar(), spacing=14), spacing=71)
row2 = alt.hconcat(alt.hconcat(panel(PANEL_14H, "14h00", True), colorbar(), spacing=14),
                   alt.hconcat(panel(PANEL_16H, "16h00", True), colorbar(), spacing=14), spacing=71)
chart = alt.vconcat(row1, row2, spacing=65).properties(padding={"left": 0, "top": -0.5, "right": 0, "bottom": 0}).configure_view(strokeWidth=1.5)
chart.save("out.html", embed_options={"renderer": "svg", "actions": False})
